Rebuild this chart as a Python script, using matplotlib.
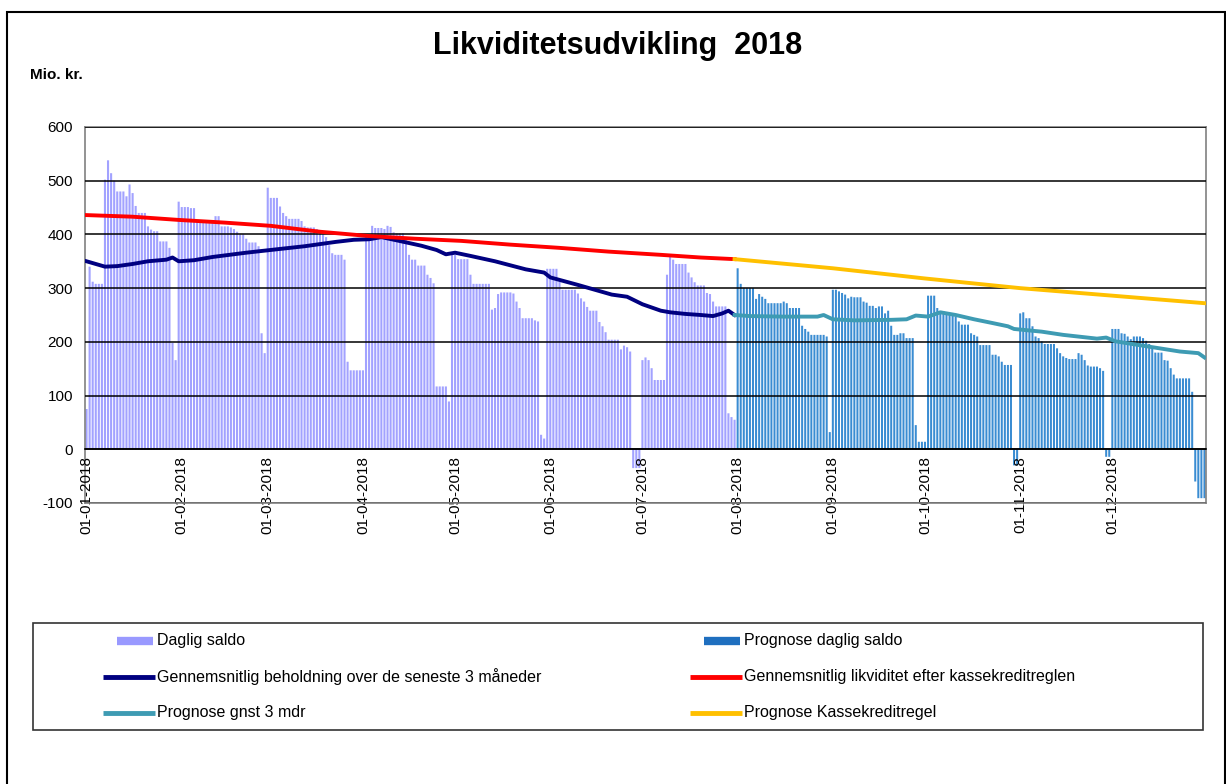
import numpy as np
import matplotlib
matplotlib.use('Agg')
import matplotlib.pyplot as plt
from matplotlib.lines import Line2D
from matplotlib.patches import Rectangle

plt.rcParams['font.family'] = ['Liberation Sans', 'DejaVu Sans']
plt.rcParams['axes.unicode_minus'] = False

# daily saldo, actual (jan-jul) and forecast (aug-dec), mio. kr.
jan = [75, 340, 312, 308, 308, 308, 502, 538, 514, 500, 480, 480, 480, 471, 493, 477,
       453, 440, 440, 440, 415, 409, 406, 406, 387, 387, 387, 375, 198, 166, 461]
feb = [451, 451, 451, 449, 449, 425, 422, 422, 422, 422, 422, 434, 434, 415, 415, 415,
       413, 410, 405, 400, 400, 392, 385, 385, 385, 378, 216, 179]
mar = [487, 468, 468, 468, 452, 440, 434, 429, 429, 429, 429, 425, 415, 413, 413, 413,
       410, 405, 400, 395, 380, 365, 362, 362, 362, 353, 163, 147, 147, 147, 147]
apr = [147, 400, 400, 416, 412, 412, 412, 410, 416, 414, 404, 402, 402, 402, 390, 362,
       353, 353, 342, 342, 342, 325, 319, 309, 117, 117, 117, 117, 89, 362]
may = [362, 354, 354, 354, 354, 325, 308, 308, 308, 308, 308, 308, 260, 263, 289, 292,
       292, 292, 292, 290, 275, 263, 244, 244, 244, 244, 240, 238, 27, 20, 336]
jun = [336, 336, 336, 312, 297, 297, 297, 297, 297, 290, 281, 275, 265, 258, 258, 258,
       237, 229, 218, 204, 204, 204, 204, 186, 193, 190, 182, -35, -35, -35]
jul = [166, 171, 166, 151, 129, 129, 129, 129, 325, 359, 353, 345, 345, 345, 345, 329,
       320, 311, 305, 305, 305, 291, 289, 275, 266, 266, 266, 266, 67, 60, 55]
aug = [337, 308, 300, 300, 300, 300, 280, 289, 284, 280, 272, 272, 272, 272, 272, 275,
       272, 263, 263, 263, 263, 230, 224, 219, 213, 213, 213, 213, 213, 210, 32]
sep = [297, 297, 294, 291, 288, 281, 284, 283, 283, 283, 275, 273, 267, 267, 263, 266,
       266, 253, 258, 230, 213, 213, 216, 216, 207, 207, 207, 45, 14, 14]
okt = [14, 286, 286, 286, 263, 257, 257, 253, 250, 250, 247, 238, 232, 232, 232, 216,
       213, 210, 194, 194, 194, 194, 176, 176, 173, 163, 157, 157, 157, -30, -30]
nov = [253, 255, 244, 244, 229, 210, 207, 201, 196, 196, 196, 196, 188, 179, 173, 170,
       168, 168, 168, 179, 176, 166, 156, 154, 154, 154, 151, 146, -14, -14]
dec = [224, 224, 224, 216, 215, 210, 205, 210, 210, 210, 207, 202, 196, 188, 180, 180,
       180, 166, 165, 151, 139, 132, 132, 132, 132, 132, 107, -60, -91, -91, -91]

month_labels = ['01-01-2018', '01-02-2018', '01-03-2018', '01-04-2018', '01-05-2018',
                '01-06-2018', '01-07-2018', '01-08-2018', '01-09-2018', '01-10-2018',
                '01-11-2018', '01-12-2018']

# lines: (day of year, value)
gns_day = [0, 3, 6, 10, 15, 20, 26, 28, 30, 35, 41, 52, 63, 71, 81, 87, 92, 96, 101, 109,
           114, 117, 120, 125, 133, 143, 149, 151, 160, 171, 176, 181, 187, 190, 195, 200,
           204, 207, 209, 211]
gns_val = [350, 345, 340, 341, 345, 350, 353, 357, 350, 352, 358, 366, 373, 378, 386, 390,
           391, 395, 389, 379, 371, 363, 366, 360, 350, 335, 329, 320, 306, 288, 284, 270,
           258, 255, 252, 250, 248, 253, 258, 250]
kk_day = [0, 15, 30, 45, 60, 76, 92, 107, 122, 138, 154, 170, 187, 200, 211]
kk_val = [436, 433, 427, 422, 416, 405, 397, 392, 388, 381, 375, 368, 362, 357, 354]
pg_day = [211, 216, 227, 238, 240, 243, 250, 262, 267, 270, 274, 278, 283, 289, 295, 300,
          302, 311, 318, 329, 332, 335, 346, 356, 362, 364]
pg_val = [250, 248, 247, 247, 250, 242, 240, 241, 242, 249, 247, 255, 250, 242, 235, 229,
          224, 219, 213, 206, 208, 201, 191, 182, 179, 171]
pk_day = [211, 243, 273, 304, 334, 364]
pk_val = [354, 337, 318, 300, 286, 272]

actual = jan + feb + mar + apr + may + jun + jul
forecast = aug + sep + okt + nov + dec
months = [jan, feb, mar, apr, may, jun, jul, aug, sep, okt, nov, dec]
month_start = np.cumsum([0] + [len(m) for m in months[:-1]])
days_a = np.arange(len(actual))
days_f = np.arange(len(actual), len(actual) + len(forecast))

W, H = 1226, 784
fig = plt.figure(figsize=(W / 100, H / 100), dpi=100)
ax = fig.add_axes([85 / W, 1 - 503 / H, 1121 / W, 376 / H])

# move the category axis to y=0 first (this resets tick settings)
ax.spines['bottom'].set_position(('data', 0))
ax.spines['bottom'].set_color('black')
ax.spines['bottom'].set_linewidth(1.2)
for s in ['left', 'top', 'right']:
    ax.spines[s].set_color('#808080')
    ax.spines[s].set_linewidth(1.2)

ax.bar(days_a, actual, width=0.68, color='#A2A2FF', linewidth=0, zorder=1, snap=False)
ax.bar(days_f, forecast, width=0.66, color='#3A8CD2', linewidth=0, zorder=1, snap=False)

ax.plot(gns_day, gns_val, color='#000080', lw=2.8, zorder=4)
ax.plot(kk_day, kk_val, color='#FF0000', lw=2.8, zorder=4)
ax.plot(pg_day, pg_val, color='#3E9BB3', lw=2.8, zorder=4)
ax.plot(pk_day, pk_val, color='#FFC000', lw=2.8, zorder=4)

ax.set_xlim(-0.5, len(actual) + len(forecast) - 0.5)
ax.set_ylim(-100, 600)
ax.set_yticks(range(-100, 601, 100))
ax.set_axisbelow(False)
ax.yaxis.grid(True, color='black', lw=1.1, zorder=2.5)
ax.set_xticks(month_start)
ax.set_xticklabels(month_labels, rotation=90, fontsize=11, va='top', ha='center')
ax.tick_params(axis='x', length=0, pad=5)
ax.tick_params(axis='y', length=0, pad=8.5, labelsize=11)

ax.axhline(-100, color='#808080', lw=1.2, clip_on=False, zorder=5)

fig.text(618 / W, 1 - 46 / H, 'Likviditetsudvikling  2018', fontsize=22, fontweight='bold',
         ha='center', va='center')
fig.text(30 / W, 1 - 75 / H, 'Mio. kr.', fontsize=11, fontweight='bold', va='center')

# legend box drawn by hand to match the wide two-column layout
fig.add_artist(Rectangle((33 / W, 1 - 730 / H), 1170 / W, 107 / H, fill=False,
                         lw=1.2, edgecolor='#333333', transform=fig.transFigure))
entries = [
    (103, 641, '#9999FF', 6, 'Daglig saldo'),
    (103, 677, '#000080', 3.5, 'Gennemsnitlig beholdning over de seneste 3 måneder'),
    (103, 713, '#3E9BB3', 3.5, 'Prognose gnst 3 mdr'),
    (690, 641, '#1F6FBF', 6, 'Prognose daglig saldo'),
    (690, 677, '#FF0000', 3.5, 'Gennemsnitlig likviditet efter kassekreditreglen'),
    (690, 713, '#FFC000', 3.5, 'Prognose Kassekreditregel'),
]
for x0, y0, c, lw, txt in entries:
    xs = [(x0 + 14) / W, (x0 + 50) / W] if lw == 6 else [x0 / W, (x0 + 52) / W]
    fig.add_artist(Line2D(xs, [1 - y0 / H, 1 - y0 / H], color=c, lw=lw,
                          solid_capstyle='butt', transform=fig.transFigure))
    fig.text((x0 + 54) / W, 1 - y0 / H, txt, fontsize=11.5, va='center')

# outer frame
fig.add_artist(Rectangle((7 / W, -0.02), 1218 / W, (H - 12) / H + 0.02, fill=False,
                         lw=1.5, edgecolor='black', transform=fig.transFigure))

plt.savefig('out.png', dpi=100)
